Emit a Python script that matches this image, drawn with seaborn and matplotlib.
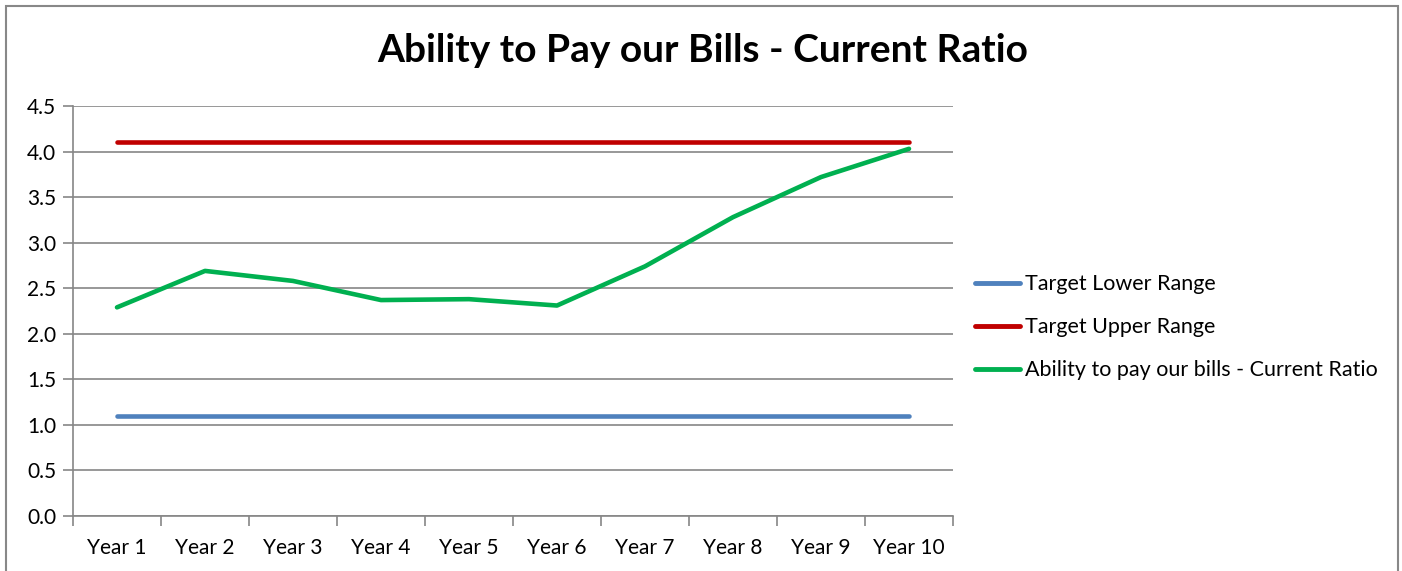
import numpy as np
import pandas as pd
import matplotlib
matplotlib.use("Agg")
import matplotlib.pyplot as plt
from matplotlib.patches import Rectangle
from matplotlib.ticker import FixedLocator
import seaborn as sns

years = ["Year 1", "Year 2", "Year 3", "Year 4", "Year 5",
         "Year 6", "Year 7", "Year 8", "Year 9", "Year 10"]
target_lower = [1.1] * 10
target_upper = [4.1] * 10
current_ratio = [2.29, 2.69, 2.58, 2.37, 2.38, 2.31, 2.74, 3.28, 3.72, 4.03]
series_names = ["Target Lower Range", "Target Upper Range",
                "Ability to pay our bills - Current Ratio"]
colors = ["#4F81BD", "#C00000", "#00B050"]
yticks = [0.0, 0.5, 1.0, 1.5, 2.0, 2.5, 3.0, 3.5, 4.0, 4.5]

sns.set_style("white")
plt.rcParams['font.family'] = ['Lato', 'DejaVu Sans']

df = pd.DataFrame({
    "x": list(range(len(years))) * 3,
    "value": target_lower + target_upper + current_ratio,
    "series": [series_names[0]] * 10 + [series_names[1]] * 10 + [series_names[2]] * 10,
})

fig = plt.figure(figsize=(14.02, 5.71), dpi=100)
ax = fig.add_axes([73 / 1402, 55 / 571, (953 - 73) / 1402, (516 - 106) / 571])

sns.lineplot(data=df, x="x", y="value", hue="series", hue_order=series_names,
             palette=colors, linewidth=3.3, ax=ax, legend=True)

ax.set_xlim(-0.5, 9.5)
ax.set_ylim(0, 4.5)
ax.set_yticks(yticks)
ax.set_yticklabels([f"{v:.1f}" for v in yticks], fontsize=15, color="black")
ax.set_xticks(range(len(years)))
ax.set_xticklabels(years, fontsize=15, color="black")
ax.xaxis.set_minor_locator(FixedLocator(np.arange(-0.5, 10, 1.0)))
ax.tick_params(axis="x", which="both", bottom=True)
ax.tick_params(axis="y", which="both", left=True)
ax.tick_params(axis="x", which="major", length=0, pad=16)
ax.tick_params(axis="x", which="minor", length=7, width=1.2, color="#868686", direction="out")
ax.tick_params(axis="y", which="major", length=7, width=1.2, color="#868686", direction="out", pad=5)
ax.set_xlabel("")
ax.set_ylabel("")
ax.grid(axis="y", color="#868686", linewidth=1.2)
ax.set_axisbelow(True)
for s in ["top", "right"]:
    ax.spines[s].set_visible(False)
for s in ["left", "bottom"]:
    ax.spines[s].set_color("#868686")
    ax.spines[s].set_linewidth(1.2)

for line in ax.get_lines():
    line.set_solid_capstyle("round")

handles, labels = ax.get_legend_handles_labels()
ax.legend_.remove()
leg = fig.legend(handles, labels, loc="upper left",
                 bbox_to_anchor=(958 / 1402, 1 - 257 / 571),
                 frameon=False, fontsize=15.5, handlelength=2.1,
                 handletextpad=0.2, labelspacing=1.07, borderpad=0.3)
for t in leg.get_texts():
    t.set_color("black")
for h in leg.get_lines():
    h.set_linewidth(3.5)
    h.set_solid_capstyle("round")

fig.text(703 / 1402, 1 - 51 / 571, "Ability to Pay our Bills - Current Ratio",
         ha="center", va="center", fontsize=28, fontweight="bold", color="black")

fig.patches.append(Rectangle((6 / 1402, -0.05), (1398 - 6) / 1402, 1 - 6 / 571 + 0.05,
                             transform=fig.transFigure, fill=False,
                             edgecolor="#888888", linewidth=1.5))

fig.savefig("out.png", dpi=100)
